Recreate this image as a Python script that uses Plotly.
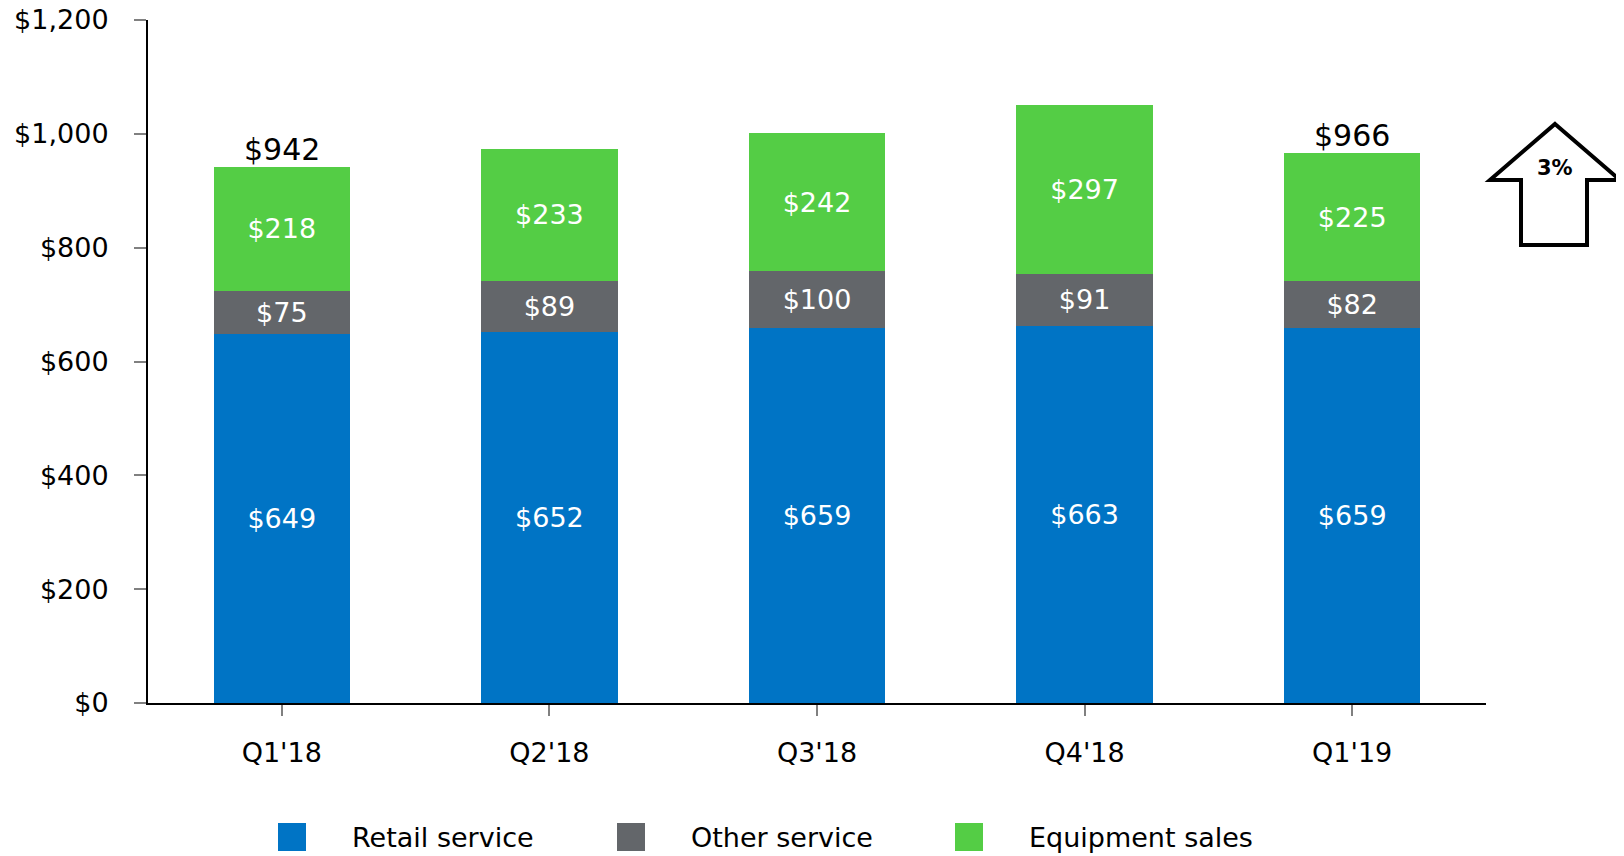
import plotly.graph_objects as go

quarters = ["Q1'18", "Q2'18", "Q3'18", "Q4'18", "Q1'19"]
retail = [649, 652, 659, 663, 659]
other = [75, 89, 100, 91, 82]
equipment = [218, 233, 242, 297, 225]
series_names = ["Retail service", "Other service", "Equipment sales"]
colors = ["#0074C5", "#63666A", "#54CD45"]
labeled_totals = {"Q1'18": 942, "Q1'19": 966}
growth_label = "3%"
y_ticks = [0, 200, 400, 600, 800, 1000, 1200]
y_ticktext = [f"${v:,}" for v in y_ticks]

W, H = 1624, 856
OFF = 8  # page body margin
L, R, T, B = 148 - OFF, 138 + OFF, 20 - OFF, 153 + OFF
FONT = "Verdana, DejaVu Sans, sans-serif"
FS = 27


def px(x, y):
    # screen pixel -> paper coordinates
    x, y = x - OFF, y - OFF
    return (x - L) / (W - L - R), (H - B - y) / (H - T - B)


fig = go.Figure()
for name, vals, col in zip(series_names, [retail, other, equipment], colors):
    fig.add_trace(go.Bar(
        x=quarters, y=vals, name=name, marker_color=col, marker_line_width=0,
        text=[f"${v}" for v in vals], texttemplate="%{text}",
        textposition="inside", insidetextanchor="middle",
        constraintext="none", textangle=0,
        textfont=dict(color="white", size=FS, family=FONT),
        showlegend=False,
    ))

for q, tot in labeled_totals.items():
    fig.add_annotation(x=q, y=tot, text=f"${tot}", showarrow=False,
                       yanchor="bottom", yshift=-2,
                       font=dict(size=30, color="black", family=FONT))

# legend drawn by hand (large square swatches)
legend_x = [278, 617, 955]
for name, col, lx in zip(series_names, colors, legend_x):
    x0, y0 = px(lx, 851)
    x1, y1 = px(lx + 28, 823)
    fig.add_shape(type="rect", xref="paper", yref="paper", x0=x0, y0=y0, x1=x1, y1=y1,
                  fillcolor=col, line_width=0)
    tx, ty = px(lx + 72, 837)
    fig.add_annotation(xref="paper", yref="paper", x=tx, y=ty, text=name, showarrow=False,
                       xanchor="left", yanchor="middle",
                       font=dict(size=FS, color="black", family=FONT))

# growth arrow
pts = [(1555, 124), (1620, 180), (1587, 180), (1587, 245), (1521, 245), (1521, 180), (1490, 180)]
path = "M " + " L ".join(f"{px(a, b)[0]},{px(a, b)[1]}" for a, b in pts) + " Z"
fig.add_shape(type="path", xref="paper", yref="paper", path=path, layer="below",
              fillcolor="white", line=dict(color="black", width=4))
ax, ay = px(1555, 168)
fig.add_annotation(xref="paper", yref="paper", x=ax, y=ay, text=f"<b>{growth_label}</b>",
                   showarrow=False, xanchor="center", yanchor="middle",
                   font=dict(size=21, color="black", family=FONT))

fig.update_layout(
    barmode="stack", bargap=0.49,
    width=W, height=H, margin=dict(l=L, r=R, t=T, b=B, autoexpand=False),
    plot_bgcolor="white", paper_bgcolor="white",
    font=dict(family=FONT, size=FS, color="black"),
)
fig.update_xaxes(showline=True, linecolor="black", linewidth=2, ticks="outside",
                 tickcolor="#808080", ticklen=11, tickwidth=2, ticklabelstandoff=14,
                 showgrid=False, range=[-0.5, 4.5],
                 tickfont=dict(size=FS, family=FONT, color="black"))
fig.update_yaxes(range=[0, 1200], tickmode="array", tickvals=y_ticks, ticktext=y_ticktext,
                 ticklabeloverflow="allow",
                 showline=True, linecolor="black", linewidth=2, ticks="outside",
                 tickcolor="#808080", ticklen=12, tickwidth=2, ticklabelstandoff=20,
                 showgrid=False, zeroline=False,
                 tickfont=dict(size=FS, family=FONT, color="black"))

fig.write_html("out.html")
